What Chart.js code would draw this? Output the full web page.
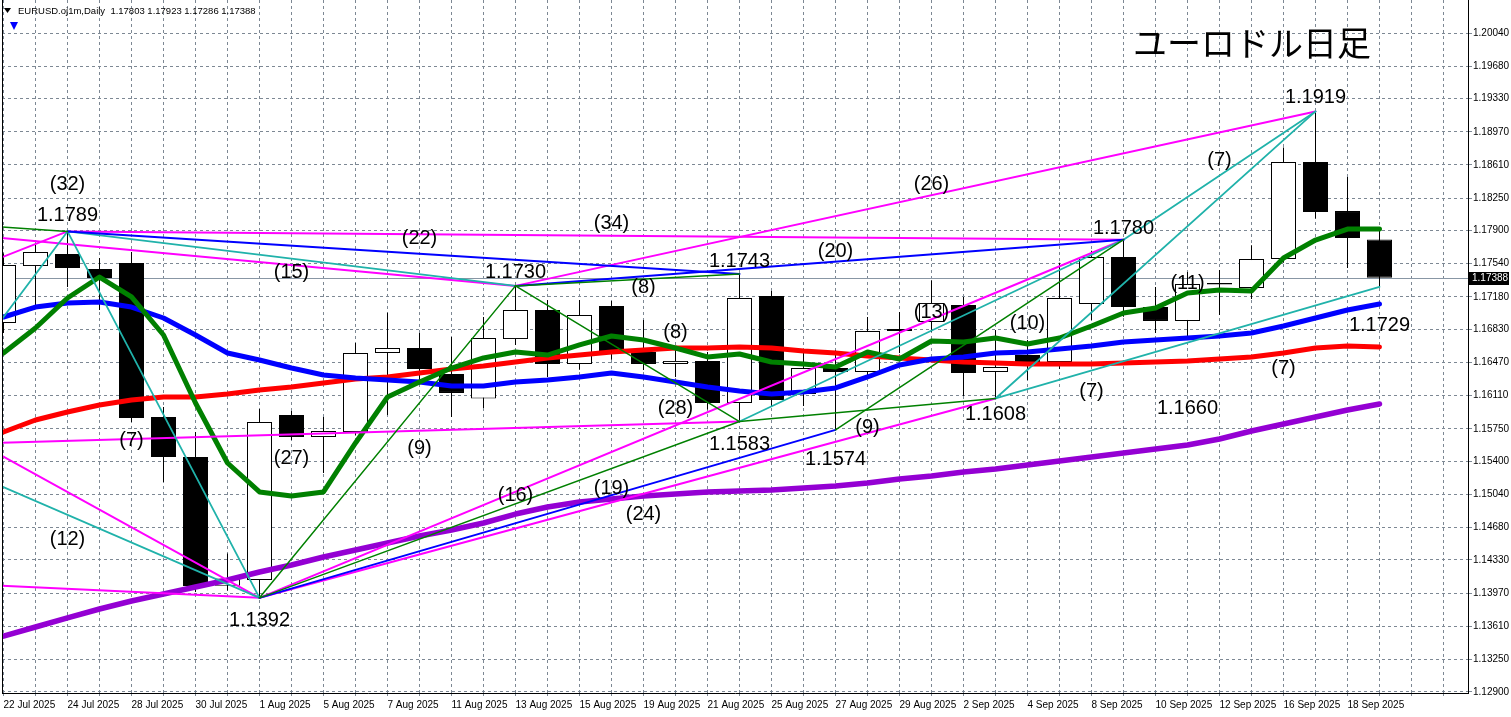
<!DOCTYPE html>
<html>
<head>
<meta charset="utf-8">
<title>ユーロドル日足</title>
<script src="https://cdn.jsdelivr.net/npm/chart.js@4.4.1/dist/chart.umd.min.js"></script>
<style>
  html, body { margin: 0; padding: 0; background: #fff; }
  canvas { display: block; }
</style>
</head>
<body>
<canvas id="chart" width="1511" height="717"></canvas>
<script>
// EURUSD daily, 22 Jul - 19 Sep 2025
const dates = ['22 Jul 2025', '23 Jul 2025', '24 Jul 2025', '25 Jul 2025', '28 Jul 2025', '29 Jul 2025', '30 Jul 2025', '31 Jul 2025',
  '1 Aug 2025', '4 Aug 2025', '5 Aug 2025', '6 Aug 2025', '7 Aug 2025', '8 Aug 2025', '11 Aug 2025', '12 Aug 2025',
  '13 Aug 2025', '14 Aug 2025', '15 Aug 2025', '18 Aug 2025', '19 Aug 2025', '20 Aug 2025', '21 Aug 2025', '22 Aug 2025',
  '25 Aug 2025', '26 Aug 2025', '27 Aug 2025', '28 Aug 2025', '29 Aug 2025', '1 Sep 2025', '2 Sep 2025', '3 Sep 2025',
  '4 Sep 2025', '5 Sep 2025', '8 Sep 2025', '9 Sep 2025', '10 Sep 2025', '11 Sep 2025', '12 Sep 2025', '15 Sep 2025',
  '16 Sep 2025', '17 Sep 2025', '18 Sep 2025', '19 Sep 2025'];

const opens = [1.16898, 1.17515, 1.17646, 1.17483, 1.17548, 1.15880, 1.15446, 1.14050, 1.14113, 1.15901,
  1.15663, 1.15717, 1.16573, 1.16627, 1.16345, 1.16080, 1.16724, 1.17039, 1.16454, 1.17082,
  1.16584, 1.16454, 1.16487, 1.16031, 1.17191, 1.16129, 1.16410, 1.16367, 1.16811, 1.16909,
  1.17093, 1.16367, 1.16551, 1.16476, 1.17104, 1.17613, 1.17071, 1.16920, 1.17315, 1.17277,
  1.17591, 1.18642, 1.18111, 1.17803];
const highs = [1.17650, 1.17765, 1.17890, 1.17602, 1.17667, 1.15988, 1.15717, 1.14400, 1.15966, 1.15944,
  1.15880, 1.16681, 1.17010, 1.16790, 1.16746, 1.16963, 1.17300, 1.17147, 1.17147, 1.17136,
  1.16931, 1.16605, 1.16584, 1.17430, 1.17245, 1.16605, 1.16600, 1.16963, 1.17017, 1.17360,
  1.17180, 1.16822, 1.16714, 1.17550, 1.17680, 1.17800, 1.17288, 1.17450, 1.17472, 1.17740,
  1.18800, 1.19190, 1.18480, 1.17923];
const lows = [1.16790, 1.17093, 1.17288, 1.17039, 1.15825, 1.15175, 1.13983, 1.14000, 1.13920, 1.15630,
  1.15273, 1.15680, 1.15900, 1.16280, 1.15879, 1.15977, 1.16660, 1.16313, 1.16390, 1.16500,
  1.16389, 1.16313, 1.15960, 1.15830, 1.15988, 1.15998, 1.15740, 1.16300, 1.16573, 1.16800,
  1.16107, 1.16080, 1.16280, 1.16400, 1.16930, 1.16966, 1.16790, 1.16746, 1.16985, 1.17158,
  1.17550, 1.18030, 1.17494, 1.17286];
const closes = [1.17526, 1.17667, 1.17494, 1.17385, 1.15869, 1.15446, 1.14048, 1.14130, 1.15825, 1.15663,
  1.15728, 1.16573, 1.16627, 1.16399, 1.16140, 1.16735, 1.17039, 1.16454, 1.16985, 1.16584,
  1.16454, 1.16487, 1.16031, 1.17169, 1.16064, 1.16410, 1.16367, 1.16811, 1.16833, 1.17115,
  1.16356, 1.16421, 1.16454, 1.17169, 1.17613, 1.17071, 1.16920, 1.17320, 1.17330, 1.17591,
  1.18642, 1.18101, 1.17819, 1.17388];

// moving averages
const maGreen = [1.16573, 1.16844, 1.17169, 1.17396, 1.17180, 1.16768, 1.16031, 1.15381, 1.15067, 1.15023,
  1.15067, 1.15598, 1.16096, 1.16259, 1.16410, 1.16519, 1.16584, 1.16551, 1.16660, 1.16757,
  1.16714, 1.16627, 1.16530, 1.16562, 1.16475, 1.16454, 1.16421, 1.16584, 1.16508, 1.16703,
  1.16692, 1.16735, 1.16670, 1.16735, 1.16865, 1.17006, 1.17060, 1.17223, 1.17255, 1.17245,
  1.17602, 1.17797, 1.17916, 1.17916];
const maBlue = [1.16963, 1.17071, 1.17115, 1.17125, 1.17071, 1.16952, 1.16768, 1.16573, 1.16497, 1.16410,
  1.16334, 1.16302, 1.16280, 1.16259, 1.16215, 1.16215, 1.16259, 1.16280, 1.16313, 1.16356,
  1.16313, 1.16259, 1.16204, 1.16161, 1.16129, 1.16150, 1.16194, 1.16313, 1.16443, 1.16508,
  1.16530, 1.16573, 1.16584, 1.16616, 1.16649, 1.16692, 1.16714, 1.16735, 1.16757, 1.16790,
  1.16865, 1.16952, 1.17039, 1.17104];
const maRed = [1.15717, 1.15847, 1.15934, 1.16009, 1.16064, 1.16096, 1.16096, 1.16129, 1.16172, 1.16204,
  1.16248, 1.16291, 1.16313, 1.16356, 1.16399, 1.16432, 1.16475, 1.16519, 1.16551, 1.16584,
  1.16605, 1.16627, 1.16627, 1.16638, 1.16627, 1.16595, 1.16573, 1.16540, 1.16519, 1.16497,
  1.16475, 1.16464, 1.16454, 1.16454, 1.16454, 1.16464, 1.16475, 1.16486, 1.16508, 1.16530,
  1.16573, 1.16627, 1.16649, 1.16638];
const maPurple = [1.13506, 1.13604, 1.13702, 1.13799, 1.13886, 1.13962, 1.14037, 1.14113, 1.14200, 1.14276,
  1.14362, 1.14438, 1.14514, 1.14590, 1.14655, 1.14731, 1.14828, 1.14904, 1.14958, 1.14991,
  1.15023, 1.15045, 1.15067, 1.15078, 1.15088, 1.15110, 1.15132, 1.15164, 1.15208, 1.15240,
  1.15283, 1.15316, 1.15359, 1.15403, 1.15446, 1.15489, 1.15533, 1.15576, 1.15641, 1.15728,
  1.15804, 1.15879, 1.15955, 1.16020];

const priceTicks = [1.20040, 1.19680, 1.19330, 1.18970, 1.18610, 1.18250, 1.17900, 1.17540, 1.17180, 1.16830,
  1.16470, 1.16110, 1.15750, 1.15400, 1.15040, 1.14680, 1.14330, 1.13970, 1.13610, 1.13250, 1.12900];

// swing points [bar, price]
const hi1789 = [2, 1.1789], lo1392 = [8, 1.1392], hi1730 = [16, 1.1730], hi1743 = [23, 1.1743];
const lo1583 = [23, 1.1583], lo1574 = [26, 1.1574], lo1608 = [31, 1.1608], hi1780 = [35, 1.1780];
const hi1919 = [41, 1.1919], lo1729 = [43, 1.1729];
// lines coming in from the left of the window
const offG = [-1, 1.1796], offM1 = [-1, 1.1748], offC1 = [-1, 1.1650], offM2 = [-1, 1.1785];
const offM3 = [-1, 1.1564], offC2 = [-1, 1.1527], offM4 = [-1, 1.14065], offM5 = [-1, 1.1559];

const magentaLines = [[hi1789, hi1780], [hi1730, hi1919], [lo1392, lo1608], [lo1392, hi1780],
  [offM1, hi1789], [offM2, hi1730], [offM3, lo1392], [offM4, lo1392], [offM5, lo1583]];
const cyanLines = [[hi1789, lo1392], [hi1789, hi1730], [offC1, hi1789], [offC2, lo1392],
  [lo1583, hi1780], [lo1608, hi1919], [hi1780, hi1919], [lo1608, lo1729]];
const blueLines = [[hi1789, hi1743], [hi1730, hi1780], [lo1392, lo1574]];
const greenLines = [[offG, hi1789], [hi1730, hi1743], [hi1730, lo1583], [lo1392, hi1730],
  [lo1392, lo1583], [lo1574, hi1780], [lo1583, lo1608]];

const noteText = ['(32)', '1.1789', '(15)', '(22)', '(34)', '1.1730', '(26)', '1.1743', '(20)', '(8)', '(8)',
  '1.1780', '(7)', '1.1919', '(11)', '(13)', '(10)', '1.1729', '(7)', '1.1660', '(7)', '1.1608', '(9)',
  '1.1574', '1.1583', '(28)', '(7)', '(27)', '(9)', '(16)', '(19)', '(24)', '(12)', '1.1392'];
const noteBar = [2, 2, 9, 13, 19, 16, 29, 23, 26, 20, 21, 35, 38, 41, 37, 29, 32, 43, 40, 37, 34, 31, 27,
  26, 23, 21, 4, 9, 13, 16, 19, 20, 2, 8];
const notePrice = [1.18404, 1.18068, 1.17450, 1.17819, 1.17971, 1.17450, 1.18404, 1.17559, 1.17678, 1.17288,
  1.16800, 1.17927, 1.18664, 1.19336, 1.17331, 1.17017, 1.16898, 1.16876, 1.16410, 1.15977, 1.16161,
  1.15912, 1.15771, 1.15414, 1.15587, 1.15977, 1.15630, 1.15435, 1.15533, 1.15034, 1.15110, 1.14818,
  1.14547, 1.13680];

const last = dates.length - 1;
const GRID = '#7d8894';
const FONT = '"Liberation Sans", Arial, sans-serif';

const series = arr => arr.map((v, i) => ({ x: i, y: v }));
const lineDs = (data, color, width, order) => ({
  type: 'line', data, borderColor: color, borderWidth: width, pointRadius: 0,
  fill: false, tension: 0, order, clip: 0, borderJoinStyle: 'round', borderCapStyle: 'round'
});
const segs = (list, color, width, order) =>
  list.map(([a, b]) => lineDs([{ x: a[0], y: a[1] }, { x: b[0], y: b[1] }], color, width, order));

const extras = {
  id: 'extras',
  beforeDatasetsDraw(chart) {
    const { ctx, chartArea: a, scales: { y } } = chart;
    const py = Math.round(y.getPixelForValue(closes[last])) + 0.5;
    ctx.save();
    ctx.strokeStyle = '#8896a4';
    ctx.lineWidth = 1;
    ctx.beginPath(); ctx.moveTo(a.left, py); ctx.lineTo(a.right, py); ctx.stroke();
    ctx.restore();
  },
  afterDatasetsDraw(chart) {
    const { ctx, scales: { x, y } } = chart;
    ctx.save();
    ctx.font = '20px ' + FONT;
    ctx.fillStyle = '#000';
    ctx.textAlign = 'center';
    ctx.textBaseline = 'middle';
    noteText.forEach((t, i) => ctx.fillText(t, x.getPixelForValue(noteBar[i]), y.getPixelForValue(notePrice[i])));
    ctx.restore();
  },
  afterDraw(chart) {
    const { ctx, chartArea: a, scales: { y } } = chart;
    ctx.save();
    // left frame
    ctx.strokeStyle = '#000'; ctx.lineWidth = 1;
    ctx.beginPath(); ctx.moveTo(a.left + 0.5, 0); ctx.lineTo(a.left + 0.5, a.bottom); ctx.stroke();
    // header
    ctx.fillStyle = '#000';
    ctx.beginPath(); ctx.moveTo(4, 8); ctx.lineTo(11, 8); ctx.lineTo(7.5, 13); ctx.closePath(); ctx.fill();
    ctx.font = '9.5px ' + FONT;
    ctx.textBaseline = 'middle';
    const ohlc = [opens[last], highs[last], lows[last], closes[last]].map(v => v.toFixed(5)).join(' ');
    ctx.fillText('EURUSD.oj1m,Daily  ' + ohlc, 18, 11);
    ctx.fillStyle = '#0000ff';
    ctx.beginPath(); ctx.moveTo(10, 22); ctx.lineTo(18, 22); ctx.lineTo(14, 30); ctx.closePath(); ctx.fill();
    // title
    ctx.fillStyle = '#000';
    ctx.font = '34px "Noto Sans CJK JP", sans-serif';
    ctx.textAlign = 'left';
    ctx.fillText('ユーロドル日足', 1133, 43);
    // last price box
    const py = Math.round(y.getPixelForValue(closes[last]));
    ctx.fillRect(a.right, py - 6, 41, 13);
    ctx.fillStyle = '#fff';
    ctx.font = '10px ' + FONT;
    ctx.fillText(closes[last].toFixed(5), a.right + 4, py + 0.5);
    ctx.restore();
  }
};

const candleFill = c => closes[c.dataIndex] >= opens[c.dataIndex] ? '#ffffff' : '#000000';

new Chart(document.getElementById('chart'), {
  type: 'line',
  data: {
    datasets: [
      ...segs(greenLines, '#008000', 1.5, 10),
      ...segs(blueLines, '#0000ff', 2, 11),
      ...segs(cyanLines, '#20b2aa', 1.8, 12),
      ...segs(magentaLines, '#ff00ff', 2, 13),
      lineDs(series(maGreen), '#008000', 5, 50),
      lineDs(series(maBlue), '#0000ff', 5, 52),
      lineDs(series(maRed), '#ff0000', 5, 54),
      lineDs(series(maPurple), '#9400d3', 5.5, 56),
      {
        type: 'bar', order: 90, grouped: false, clip: 0,
        data: dates.map((d, i) => ({ x: i, y: [opens[i], closes[i]] })),
        backgroundColor: candleFill, borderColor: '#000', borderWidth: 1,
        borderSkipped: false, barThickness: 25, inflateAmount: 0
      },
      {
        type: 'bar', order: 100, grouped: false, clip: 0,
        data: dates.map((d, i) => ({ x: i, y: [lows[i], highs[i]] })),
        backgroundColor: '#000', borderWidth: 0, barThickness: 1, inflateAmount: 0
      }
    ]
  },
  options: {
    responsive: false,
    animation: false,
    events: [],
    layout: { padding: { left: 2, top: 0, right: 0, bottom: 0 } },
    plugins: { legend: { display: false }, tooltip: { enabled: false } },
    scales: {
      x: {
        type: 'linear',
        position: 'bottom',
        offset: false,
        min: -1.5 / 32,
        max: 1464.5 / 32,
        afterBuildTicks: s => { s.ticks = Array.from({ length: 46 }, (v, i) => ({ value: i })); },
        afterFit: s => { s.height = 24; s.paddingLeft = 0; s.paddingRight = 0; },
        grid: { offset: false, color: GRID, lineWidth: 1, drawTicks: true, tickLength: 3, tickColor: GRID },
        border: { display: true, color: '#000', width: 1, dash: [3, 3] },
        ticks: {
          autoSkip: false, maxRotation: 0, minRotation: 0, align: 'start', padding: 3,
          color: '#000', font: { family: FONT, size: 10 },
          callback: v => (v % 2 === 0 && v <= last) ? dates[v] : ''
        }
      },
      y: {
        type: 'linear',
        position: 'right',
        offset: false,
        min: 1.128889,
        max: 1.203976,
        afterBuildTicks: s => { s.ticks = priceTicks.map(v => ({ value: v })); },
        afterFit: s => { s.width = 43; s.paddingTop = 0; s.paddingBottom = 0; },
        grid: { offset: false, color: GRID, lineWidth: 1, drawTicks: true, tickLength: 4, tickColor: GRID },
        border: { display: true, color: '#000', width: 1, dash: [3, 3] },
        ticks: {
          padding: 1, crossAlign: 'near', color: '#000', font: { family: FONT, size: 10 },
          callback: v => v.toFixed(5)
        }
      }
    }
  },
  plugins: [extras]
});
</script>
</body>
</html>
